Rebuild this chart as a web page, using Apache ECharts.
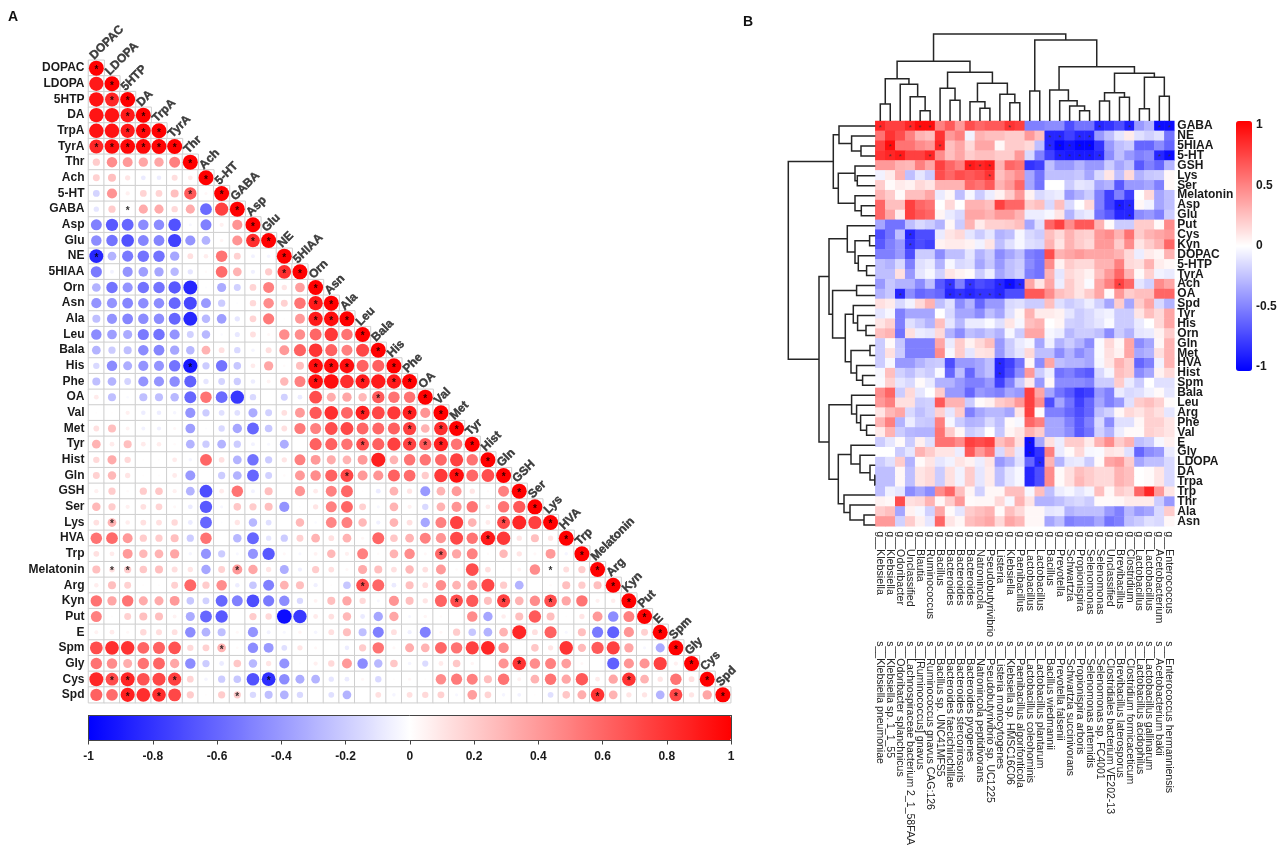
<!DOCTYPE html>
<html><head><meta charset="utf-8">
<script src="https://cdn.jsdelivr.net/npm/echarts@6/dist/echarts.min.js"></script>
<style>html,body{margin:0;padding:0;background:#fff}#c{width:1282px;height:848px}</style>
</head><body><div id="c"></div>
<script>
const metabolites = ['DOPAC','LDOPA','5HTP','DA','TrpA','TyrA','Thr','Ach','5-HT','GABA','Asp','Glu','NE','5HIAA','Orn','Asn','Ala','Leu','Bala','His','Phe','OA','Val','Met','Tyr','Hist','Gln','GSH','Ser','Lys','HVA','Trp','Melatonin','Arg','Kyn','Put','E','Spm','Gly','Cys','Spd'];
const corrRows = [
[],
[.9],
[.93,.85],
[.92,.93,.9],
[.93,.93,.9,.97],
[.85,.95,.97,.97,.98],
[.2,.45,.4,.35,.35,.5],
[.18,.25,.1,-.08,-.07,.13,.08],
[-.17,.42,.06,.17,.17,.25,.65,.03],
[-.1,.2,.02,.33,.33,.15,.33,-.58,.75],
[-.5,-.65,-.6,-.45,-.45,-.68,-.03,-.5,.06,.42],
[-.45,-.55,-.68,-.48,-.48,-.75,-.42,-.3,.04,.42,.82],
[-.85,-.3,-.52,-.55,-.55,-.35,.12,.07,.55,.18,-.05,-.04],
[-.52,-.05,-.42,-.38,-.35,-.28,-.1,.02,.58,.3,-.06,.2,.82],
[-.3,-.55,-.42,-.55,-.55,-.65,-.85,-.01,-.33,-.18,.17,.5,.1,.38],
[-.42,-.42,-.48,-.45,-.45,-.6,-.72,-.4,-.2,-.01,.15,.45,.18,.55,.9],
[-.25,-.42,-.48,-.45,-.45,-.6,-.85,-.28,-.38,-.1,.17,.52,.01,.4,.9,.95],
[-.45,-.38,-.33,-.52,-.55,-.42,-.18,-.28,-.02,-.09,.12,.03,.45,.45,.6,.78,.55],
[-.3,-.2,-.25,-.45,-.48,-.35,-.28,.3,.12,-.15,-.04,.13,.4,.62,.8,.62,.5,.72],
[-.15,-.45,-.32,-.42,-.42,-.55,-.9,-.2,-.55,-.22,.08,.35,.02,.25,.95,.95,.95,.62,.62],
[-.25,-.3,-.17,-.42,-.42,-.45,-.62,-.1,-.17,-.2,-.07,.05,.28,.5,.95,.95,.82,.9,.9,.9],
[.08,-.25,-.02,-.25,-.25,-.28,-.6,.55,-.58,-.78,-.15,0,-.18,-.08,.7,.32,.35,.28,.65,.55,.55],
[.01,.01,.06,-.07,-.07,-.04,-.42,-.2,-.12,-.12,-.33,-.18,.12,.4,.65,.82,.6,.88,.72,.78,.88,.42],
[.12,.25,.05,-.05,-.06,.03,-.38,-.01,-.15,-.35,-.6,-.22,.12,.52,.5,.7,.72,.6,.6,.62,.75,.3,.82],
[.3,.08,.25,.08,.07,.02,-.3,-.2,-.3,-.2,-.05,-.03,-.32,0,.62,.62,.55,.7,.62,.75,.75,.65,.88,.55],
[.15,.33,.15,.01,.01,.08,-.04,.6,.12,-.3,-.55,-.2,.1,.5,.4,.33,.3,.4,.88,.3,.55,.55,.6,.75,.55],
[.18,.28,.1,.01,.01,.08,-.4,0,-.2,-.3,-.6,-.18,.02,.4,.45,.62,.72,.4,.42,.62,.58,.2,.78,.95,.6,.7],
[.06,.2,.02,.2,.22,.06,-.3,-.7,.08,.55,-.05,.25,0,.42,.08,.5,.6,.01,-.08,.3,.1,-.4,.3,.4,.1,.02,.5],
[.28,.2,.06,.12,.17,.03,-.08,-.65,-.03,.22,.2,.25,-.42,-.01,.1,.5,.6,.18,-.03,.3,.06,-.15,.3,.42,.55,.08,.55,.65],
[.12,.3,.07,.12,.12,.15,-.08,-.6,-.01,.1,-.28,-.12,0,.28,-.02,.48,.5,.28,-.06,.3,.12,-.35,.5,.75,.3,.08,.72,.85,.75],
[.55,.58,.4,.2,.2,.25,-.2,.55,0,-.28,-.6,-.1,-.2,.18,.3,.12,.3,.03,.6,.22,.3,.5,.42,.72,.55,.9,.78,.1,.25,.1],
[.12,.08,.4,.28,.3,.35,-.04,-.42,-.2,-.03,-.42,-.65,.03,-.03,.05,.28,.06,.5,.02,.3,.45,.03,.6,.35,.5,.02,.28,.1,.03,.4,-.04],
[.25,.12,.2,.22,.25,.13,.1,-.35,.18,.4,.35,.1,-.32,-.06,.2,.12,.03,.33,.25,.12,.28,.12,.4,.02,.7,.12,.01,.05,.45,.01,.13,.2],
[.07,.25,.18,.01,.01,.18,.6,.2,.45,-.07,-.22,-.5,.3,.25,-.06,.01,-.22,.7,.6,-.08,.25,.12,.45,.3,.4,.72,.2,-.3,0,.02,.25,.2,.25],
[.55,.35,.55,.33,.33,.4,-.22,-.18,-.6,-.5,-.7,-.52,-.45,-.15,.05,.25,.35,.15,-.03,.42,.25,.1,.62,.7,.65,.25,.75,.3,.45,.7,.35,.55,.06,.07],
[.5,.01,.18,.25,.25,.05,-.33,-.6,-.65,0,.2,.15,-.95,-.78,.08,.12,.28,-.08,-.35,.35,-.03,.04,.02,0,.45,-.35,.07,.25,.65,.25,.01,.1,.4,-.45,.5],
[.05,.08,.03,.15,.13,.12,-.45,-.3,-.25,.03,-.42,-.05,-.03,.04,-.04,.12,.25,-.25,-.5,.12,-.06,-.5,.03,.2,-.22,-.3,.3,.85,.12,.62,-.03,.25,-.52,-.62,.42,.18],
[.7,.82,.8,.6,.62,.68,.15,.18,.3,.02,-.45,-.4,-.12,.1,.03,0,-.07,.2,.55,.03,.32,.3,.6,.55,.75,.85,.45,0,.22,.1,.8,.27,.65,.75,.35,-.03,-.33],
[.55,.45,.32,.55,.6,.35,-.45,-.2,-.08,.22,-.28,.1,-.42,-.01,.06,.15,.4,-.45,-.28,.22,-.04,-.14,.08,.22,.04,0,.42,.8,.45,.5,.38,.03,0,-.62,.42,.42,.75,.06],
[.85,.7,.85,.68,.72,.75,.17,-.04,-.2,-.22,-.68,-.82,-.45,-.32,-.3,-.1,-.08,.03,-.15,.01,.03,.01,.45,.52,.5,.25,.55,.05,.3,.55,.35,.65,.08,.35,.8,.3,.1,.55,.12],
[.62,.58,.88,.82,.82,.72,.2,.01,.2,.2,-.15,-.25,-.3,-.15,0,-.12,-.3,0,.12,-.04,.12,.15,.18,-.03,.38,.17,-.04,-.05,.01,-.12,.22,.32,.8,.3,.1,.1,-.3,.72,.1,.35]
];
const corrStars = [[2,1],[3,2],[4,2],[4,3],[5,0],[5,1],[5,2],[5,3],[5,4],[8,6],[9,2],[11,10],[12,0],[13,12],[15,14],[16,14],[16,15],[19,6],[19,14],[19,15],[19,16],[20,14],[20,17],[20,19],[21,18],[22,17],[22,20],[23,20],[23,22],[24,17],[24,20],[24,21],[24,22],[26,16],[26,23],[29,1],[29,26],[30,25],[31,22],[32,1],[32,2],[32,9],[32,29],[33,17],[34,23],[34,26],[34,29],[37,8],[38,27],[39,1],[39,2],[39,5],[39,11],[39,34],[40,2],[40,4],[40,9],[40,32],[40,37]];
const corrTicks = [-1,-.8,-.6,-.4,-.2,0,.2,.4,.6,.8,1];

const heatRowNames = ['GABA','NE','5HIAA','5-HT','GSH','Lys','Ser','Melatonin','Asp','Glu','Put','Cys','Kyn','DOPAC','5-HTP','TyrA','Ach','OA','Spd','Tyr','His','Orn','Gln','Met','HVA','Hist','Spm','Bala','Leu','Arg','Phe','Val','E','Gly','LDOPA','DA','Trpa','Trp','Thr','Ala','Asn'];
const genusNames = ['g__Klebsiella','g__Klebsiella','g__Odoribacter','g__Unclassified','g__Blautia','g__Ruminococcus','g__Bacillus','g__Bacteroides','g__Bacteroides','g__Bacteroides','g__Natronincola','g__Pseudobutyrivibrio','g__Listeria','g__Klebsiella','g__Paenibacillus','g__Lactobacillus','g__Lactobacillus','g__Bacillus','g__Prevotella','g__Schwartzia','g__Propionispira','g__Selenomonas','g__Selenomonas','g__Unclassified','g__Brevibacillus','g__Clostridium','g__Lactobacillus','g__Lactobacillus','g__Acetobacterium','g__Enterococcus'];
const speciesNames = ['s__Klebsiella pneumoniae','s__Klebsiella sp. 1_1_55','s__Odoribacter splanchnicus','s__Lachnospiraceae bacterium 2_1_58FAA','s__[Ruminococcus] gnavus','s__Ruminococcus gnavus CAG:126','s__Bacillus sp. UNC41MFS5','s__Bacteroides faecichinchillae','s__Bacteroides stercorirosoris','s__Bacteroides pyogenes','s__Natronincola peptidivorans','s__Pseudobutyrivibrio sp. UC1225','s__Listeria monocytogenes','s__Klebsiella sp. HMSC16C06','s__Paenibacillus algorifonticola','s__Lactobacillus coleohominis','s__Lactobacillus plantarum','s__Bacillus wiedmannii','s__Prevotella falsenii','s__Schwartzia succinivorans','s__Propionispira arboris','s__Selenomonas artemidis','s__Selenomonas sp. FC4001','s__Clostridiales bacterium VE202-13','s__Brevibacillus laterosporus','s__Clostridium formicaceticum','s__Lactobacillus acidophilus','s__Lactobacillus gallinarum','s__Acetobacterium bakii','s__Enterococcus hermanniensis'];
const heatRows = [
[.85,.75,.75,.85,.95,.95,.5,.65,.4,.7,.6,.65,.65,.8,.75,-.5,-.5,-.45,-.45,-.7,-.55,-.55,-.85,-.8,-.7,-.88,-.4,-.3,-.95,-.95],
[.55,.8,.7,.5,.3,.25,.8,.4,.5,-.05,.3,.25,.25,.2,.2,.4,.25,-.85,-.85,-.75,-.85,-.85,-.4,-.25,-.1,.08,-.12,-.18,-.12,-.55],
[.75,.95,.55,.55,.45,.4,.85,.25,.35,.15,.35,.35,.03,.2,.2,.15,-.25,-.85,-.98,-.92,-.98,-.98,-.8,-.4,-.25,-.2,-.6,-.6,-.45,-.6],
[.8,.85,.9,.75,.75,.85,.45,.25,.35,.2,.25,.25,.2,.2,.4,-.15,-.5,-.75,-.88,-.9,-.9,-.9,-.85,-.45,-.25,-.4,-.5,-.45,-.85,-.95],
[.4,.4,.3,.28,.5,.35,.75,.6,.5,.9,.85,.9,.3,.6,.55,-.8,-.75,-.25,-.4,-.4,-.3,-.4,-.4,-.2,-.35,-.25,-.65,-.5,-.6,-.3],
[-.05,.08,.3,-.25,-.1,-.2,.7,.6,.7,.65,.7,.8,.25,.35,.45,-.35,-.55,-.25,-.25,-.25,-.22,-.35,-.15,.1,-.25,.15,-.3,-.22,-.2,.03],
[.2,.02,.08,.05,.15,.1,.3,.3,.3,.6,.55,.65,.3,.4,.6,-.35,-.55,0,0,-.2,-.1,-.12,-.35,-.3,-.65,-.4,-.4,-.35,-.5,.03],
[.3,.2,.02,.25,.25,.35,-.08,.03,-.25,-.03,-.2,-.07,.05,.2,.4,.05,-.15,-.1,-.07,-.4,-.3,-.2,-.5,-.75,-.5,-.75,0,.15,-.35,-.25],
[.6,.25,.25,.75,.6,.55,0,.15,0,.3,.3,.25,.75,.6,.6,.2,.25,-.15,.25,-.15,0,.15,-.5,-.75,-.9,-.85,.03,-.05,-.35,-.25],
[.6,.35,.07,.75,.65,.6,.04,-.08,-.15,.35,.35,.3,.4,.4,.3,-.07,-.07,-.03,.1,-.3,-.12,-.08,-.55,-.65,-.85,-.85,-.45,-.4,-.5,-.2],
[-.35,-.55,-.55,-.25,-.15,-.2,-.3,.03,-.2,.3,.08,.18,.18,.2,.25,-.35,-.12,.6,.75,.45,.65,.65,.3,.02,-.2,-.2,.2,.2,.02,.45],
[-.7,-.55,-.25,-.85,-.7,-.7,-.08,.1,.15,-.1,-.2,-.1,-.3,-.25,-.03,-.15,-.2,.25,.15,.3,.2,.18,.4,.45,.3,.55,.2,.3,.35,.4],
[-.65,-.5,-.4,-.8,-.7,-.75,.05,.08,.08,.05,-.05,.1,-.25,-.12,-.03,-.12,-.15,.3,.1,.3,.2,.15,.4,.4,.2,.45,.1,.2,.3,.6],
[-.5,-.5,-.4,-.7,-.2,-.2,-.45,-.25,-.25,-.1,-.3,-.2,-.45,-.35,-.25,-.5,-.55,.7,.3,.35,.4,.35,.35,.35,.3,.15,-.07,.08,.04,.3],
[-.25,-.3,-.15,-.5,-.12,-.08,-.3,-.03,-.15,-.12,-.35,-.22,-.4,-.25,-.2,-.45,-.55,.45,.05,.2,.15,.15,.3,.3,.5,.15,.12,.3,.07,.03],
[-.25,-.25,.12,-.4,-.1,-.03,-.18,.1,.05,.02,-.2,-.07,-.35,-.25,-.18,-.5,-.55,.3,-.1,.15,.1,.05,.25,.4,.6,.3,.02,.18,-.05,-.08],
[-.4,-.22,-.3,-.3,-.45,-.25,-.65,-.8,-.5,-.8,-.7,-.75,-.85,-.95,-.85,.35,.1,.35,-.07,.2,.1,-.02,.35,.5,.75,.6,-.1,-.18,.45,.35],
[-.3,-.22,-.85,-.45,-.6,-.55,-.6,-.85,-.8,-.85,-.8,-.8,-.85,-.7,-.7,.65,.65,.45,.25,.2,.1,.2,.35,.02,.4,.2,.25,.25,.6,.6],
[.12,.08,-.15,-.05,.15,.3,-.25,-.12,-.45,-.3,-.6,-.4,-.4,-.15,-.12,-.2,-.2,.25,-.12,-.2,-.15,-.07,-.18,-.35,.2,-.35,.2,.35,-.15,-.3],
[-.1,-.03,-.5,-.35,-.35,-.35,0,-.15,-.35,-.35,-.45,-.25,-.35,-.12,.03,.3,.08,.08,.05,-.1,-.2,-.15,-.08,-.05,-.2,-.2,.1,.25,.15,.35],
[.1,.18,-.5,-.12,-.2,-.3,.25,-.1,-.28,-.08,-.08,-.02,-.12,.1,-.03,.25,.3,0,.04,-.18,-.2,-.15,-.1,-.02,-.2,-.2,-.08,0,.15,.35],
[.25,.3,-.55,.12,-.07,-.1,.15,-.3,-.45,-.25,-.3,-.22,-.3,-.03,-.2,.35,.35,-.03,-.07,-.28,-.2,-.2,-.25,-.45,-.2,-.3,-.1,-.08,.05,.2],
[-.2,.02,-.22,-.5,-.5,-.5,.35,-.08,.2,.05,.15,.25,-.4,-.2,-.08,-.03,-.35,-.06,-.3,-.2,-.3,-.45,-.02,.15,.03,.35,-.45,-.35,.03,.3],
[-.2,.12,-.2,-.5,-.5,-.5,.45,-.03,.2,-.1,.1,.12,-.4,-.2,-.1,.15,-.25,-.25,-.45,-.3,-.45,-.35,-.02,.12,.05,.35,-.35,-.3,.12,.3],
[-.2,-.03,-.4,-.4,-.3,-.22,-.2,-.7,-.4,-.4,-.35,-.25,-.85,-.75,-.55,.03,-.45,.35,-.25,-.3,-.3,-.35,-.03,.1,.3,.2,-.6,-.5,-.05,.3],
[-.03,.25,-.18,-.25,-.15,-.2,-.02,-.6,-.25,-.6,-.35,-.25,-.85,-.7,-.45,.4,-.2,-.07,-.55,-.5,-.6,-.65,-.15,-.04,.25,.2,-.45,-.35,.05,.15],
[-.02,.18,-.1,-.15,.02,-.08,-.3,-.3,-.4,-.5,-.5,-.4,-.75,-.5,-.2,.08,-.4,.03,-.45,-.45,-.45,-.5,-.2,-.2,.2,-.08,-.2,0,-.12,-.12],
[.45,.6,-.2,.15,-.1,0,.2,-.4,-.4,-.6,-.4,-.45,-.5,-.35,-.4,.75,.35,-.35,-.55,-.65,-.8,-.75,-.4,-.5,-.08,-.15,-.12,-.05,.02,-.1],
[.4,.5,.12,.12,-.2,-.18,.65,.3,.3,-.2,.02,.06,.2,.25,.4,.75,.45,-.7,-.35,-.55,-.75,-.6,-.35,-.5,-.4,-.12,.2,.25,.18,.02],
[.1,.28,.35,-.15,-.25,-.18,.18,-.1,.2,-.5,-.35,-.28,-.28,-.35,.1,.75,.02,-.5,-.5,-.6,-.7,-.6,-.25,-.18,.03,.15,.1,.18,.12,-.1],
[.3,.5,-.3,-.07,-.2,-.22,.5,-.03,-.2,-.3,-.28,-.15,-.25,.02,-.03,.6,.5,-.35,-.35,-.5,-.65,-.5,-.15,-.45,-.12,-.12,.03,.18,.18,.1],
[.08,.3,-.2,-.28,-.3,-.3,.55,.2,.03,-.2,-.15,0,-.22,.04,.1,.3,.2,-.35,-.35,-.45,-.65,-.55,-.18,-.3,-.07,.02,.02,.18,.15,.1],
[-.2,-.1,.02,-.2,.06,-.12,.55,.55,.45,.75,.7,.75,.25,.35,.12,-.95,-.35,.12,-.07,.2,.2,.08,.3,.45,.2,.3,-.25,-.2,-.03,.06],
[0,0,-.2,-.1,.3,.2,.1,.1,-.07,.65,.4,.55,-.15,.2,-.1,-.95,-.8,.5,-.08,.02,.15,-.03,-.02,.1,.08,-.12,-.6,-.45,-.4,-.08],
[-.2,-.12,.2,-.3,.02,.1,-.1,-.05,.1,.05,-.07,.1,-.4,-.3,-.12,-.6,-.85,.3,-.3,-.1,-.08,-.2,.02,.35,.4,.2,-.35,-.25,-.25,-.15],
[-.25,-.25,.03,-.25,.1,.15,-.2,.12,-.05,.2,-.1,.08,-.25,-.1,-.03,-.85,-.7,.45,.02,.12,.25,.2,.15,.15,.3,.25,0,.02,.1,-.15],
[-.25,-.25,.03,-.25,.1,.15,-.2,.12,-.05,.2,-.1,.08,-.25,-.1,-.03,-.85,-.7,.45,.02,.12,.28,.2,.15,.15,.3,.25,0,.02,.1,-.15],
[-.25,-.06,-.1,-.45,-.35,-.45,.45,.6,.25,.04,-.18,.03,.03,.25,.25,-.03,.25,-.25,-.07,-.03,-.1,-.04,.25,.03,.2,.15,.6,.85,.4,.1],
[.05,.03,.7,.12,.15,.3,.03,.2,.4,.02,.03,.03,.15,-.03,.3,.1,-.3,-.3,-.25,-.18,-.15,-.2,.02,.02,.03,.08,.08,.08,-.2,-.4],
[.2,.25,-.35,.05,-.03,-.18,.35,.02,-.1,.2,.25,.3,.02,.25,.15,.03,.03,-.1,-.08,-.3,-.25,-.25,-.25,-.4,-.5,-.28,-.4,-.35,-.15,.2],
[.4,.4,-.18,.2,.06,-.1,.6,.1,.03,.25,.3,.35,.15,.35,.28,.03,.03,-.35,-.25,-.5,-.45,-.45,-.35,-.55,-.5,-.25,-.2,-.12,-.15,.03]
];
const heatStars = [[0,0],[0,3],[0,4],[0,5],[0,13],[0,22],[0,25],[0,28],[0,29],[1,17],[1,18],[1,20],[1,21],[2,1],[2,6],[2,17],[2,18],[2,19],[2,20],[2,21],[3,1],[3,2],[3,5],[3,18],[3,19],[3,20],[3,21],[3,22],[3,28],[3,29],[4,9],[4,10],[4,11],[5,11],[8,24],[8,25],[9,25],[11,3],[12,3],[16,7],[16,9],[16,12],[16,13],[16,14],[16,24],[17,2],[17,7],[17,8],[17,9],[17,10],[17,11],[17,12],[24,12],[25,12],[32,15],[33,15],[34,16]];
const heatTicks = [-1,-.5,0,.5,1];

// dendrograms: [merge height, left child, right child]; a bare number is a leaf index
const columnTree = [87,
  [59.7,
    [42.3,[17,0,1],[36.7,2,[24.3,3,[10.3,4,5]]]],
    [48.7,[32.7,6,[20.7,7,8]],[37.7,[19.3,9,[12.7,10,11]],[26.7,12,[18.3,13,14]]]]],
  [81,[30,15,16],
    [54.3,[31,17,[20.3,18,[15,19,[10.3,20,21]]]],
      [47.7,[28.3,[20,22,23],[23.7,24,25]],[43.7,[12.3,26,27],[24.7,28,29]]]]]];
const rowTree = [87,
  [42,[36.3,0,[23.7,1,[14.3,2,3]]],[37,[20.3,4,[18,5,6]],[20.3,7,[14,8,9]]]],
  [56.3,
    [46.3,
      [28,10,[20.3,[5.7,11,12],[17,13,[8.7,14,15]]]],
      [42.7,[18.7,16,17],[30,[22,18,[17.7,19,[9.3,20,21]]],[24.3,[5.3,22,23],[18.7,24,[12.7,25,26]]]]]],
    [46.3,
      [23.7,27,[18.7,28,[14.7,29,[8.7,30,31]]]],
      [37,[24.3,32,[15.3,33,[5.3,34,[.5,35,36]]]],[31.3,37,[25.3,38,[11.3,39,40]]]]]]];

const FONT = 'Liberation Sans';
const colours = ['#0000ff','#ffffff','#ff0000'];
function flatten(tree){
  const out = [];
  (function walk(n){
    if (typeof n === 'number') return {pos:n+.5,h:0};
    const a = walk(n[1]), b = walk(n[2]);
    out.push([a.pos,a.h,b.pos,b.h,n[0]]);
    return {pos:(a.pos+b.pos)/2,h:n[0]};
  })(tree);
  return out;
}
function dendroItem(horizontalLeaves){
  return function(params, api){
    const p = (pos,h)=> horizontalLeaves ? api.coord([pos,h]) : api.coord([h,pos]);
    const a=api.value(0), ah=api.value(1), b=api.value(2), bh=api.value(3), h=api.value(4);
    return {type:'polyline',shape:{points:[p(a,ah),p(a,h),p(b,h),p(b,bh)]},
      style:{fill:null,stroke:'#262626',lineWidth:1.5}};
  };
}
const cellData=[], circleData=[], diagData=[];
metabolites.forEach((m,j)=>{
  for(let i=0;i<=j;i++){
    cellData.push([i,j,1]);
    circleData.push([i,j,i===j?1:corrRows[j][i]]);
  }
  diagData.push([j,j]);
});
const allStars = corrStars.concat(metabolites.map((m,j)=>[j,j])).map(s=>[s[1],s[0]]);
const heatData=[];
heatRows.forEach((r,j)=>r.forEach((v,i)=>heatData.push([i,j,v])));
const heatStarData = heatStars.map(s=>[s[1],s[0]]);
const clear = 'rgba(0,0,0,0)';
const noBorder = {textBorderWidth:0,textBorderColor:'transparent',textShadowBlur:0};

const boldLabel = {fontFamily:FONT,fontWeight:'bold',fontSize:12,color:'#1a1a1a'};
const none = {show:false};
const option = {
  animation:false,
  backgroundColor:'#fff',
  title:[
    {text:'A',left:8,top:10,padding:0,textStyle:{fontFamily:FONT,fontWeight:'bold',fontSize:14,color:'#111'}},
    {text:'B',left:743,top:15,padding:0,textStyle:{fontFamily:FONT,fontWeight:'bold',fontSize:14,color:'#111'}}
  ],
  grid:[
    {left:88.5,top:60.3,width:642.2,height:642.4},
    {left:88.5,top:715.5,width:642.5,height:25},
    {left:875.3,top:121,width:299,height:409},
    {left:875.3,top:31,width:299,height:90},
    {left:784.3,top:121,width:91,height:409},
    {left:1236,top:124.7,width:16,height:242}
  ],
  xAxis:[
    {gridIndex:0,type:'category',data:metabolites,show:false},
    {gridIndex:1,type:'value',min:-1,max:1,interval:.2,position:'bottom',z:10,splitLine:none,
      axisLine:{onZero:false,lineStyle:{color:'#444',width:1}},axisTick:{length:4,lineStyle:{color:'#444'}},
      axisLabel:Object.assign({margin:10,customValues:corrTicks,formatter:v=>String(+(+v).toFixed(1))},boldLabel)},
    {gridIndex:1,type:'value',min:-1,max:1,position:'top',z:10,splitLine:none,
      axisLine:{onZero:false,lineStyle:{color:'#444',width:1}},axisTick:none,axisLabel:none},
    {gridIndex:2,type:'category',data:genusNames,position:'bottom',axisLine:none,axisTick:none,splitLine:none,
      axisLabel:{interval:0,rotate:-90,margin:5,fontFamily:FONT,fontSize:10.7,color:'#222'}},
    {gridIndex:2,type:'category',data:speciesNames,position:'bottom',offset:110,axisLine:none,axisTick:none,splitLine:none,
      axisLabel:{interval:0,rotate:-90,margin:5,fontFamily:FONT,fontSize:10.5,color:'#222'}},
    {gridIndex:3,type:'value',min:0,max:30,show:false},
    {gridIndex:4,type:'value',min:0,max:91,inverse:true,show:false},
    {gridIndex:5,type:'value',min:0,max:1,show:false}
  ],
  yAxis:[
    {gridIndex:0,type:'category',data:metabolites,inverse:true,axisLine:none,axisTick:none,splitLine:none,
      axisLabel:Object.assign({interval:0,margin:4},boldLabel)},
    {gridIndex:1,type:'value',min:0,max:1,position:'left',z:10,splitLine:none,axisTick:none,axisLabel:none,
      axisLine:{show:true,onZero:false,lineStyle:{color:'#444',width:1}}},
    {gridIndex:1,type:'value',min:0,max:1,position:'right',z:10,splitLine:none,axisTick:none,axisLabel:none,
      axisLine:{show:true,onZero:false,lineStyle:{color:'#444',width:1}}},
    {gridIndex:2,type:'category',data:heatRowNames,inverse:true,position:'right',axisLine:none,axisTick:none,splitLine:none,
      axisLabel:Object.assign({interval:0,margin:3},boldLabel)},
    {gridIndex:3,type:'value',min:0,max:90,show:false},
    {gridIndex:4,type:'value',min:0,max:41,inverse:true,show:false},
    {gridIndex:5,type:'value',min:-1,max:1,position:'right',axisLine:none,axisTick:none,splitLine:none,
      axisLabel:Object.assign({margin:4,customValues:heatTicks},boldLabel)}
  ],
  visualMap:[
    {type:'continuous',min:-1,max:1,seriesIndex:[1],dimension:2,orient:'horizontal',left:88.5,top:715.5,itemWidth:25,itemHeight:642.5,
      padding:0,calculable:false,hoverLink:false,inRange:{color:colours},textStyle:{fontSize:0}},
    {type:'continuous',min:-1,max:1,seriesIndex:[4],dimension:2,orient:'vertical',left:1236,top:121,itemWidth:16,itemHeight:250,
      padding:0,calculable:false,hoverLink:false,inRange:{color:colours},textStyle:{fontSize:0}}
  ],
  series:[
    {type:'heatmap',xAxisIndex:0,yAxisIndex:0,data:cellData,silent:true,
      itemStyle:{color:'#fff',borderColor:'#cfcfcf',borderWidth:1}},
    {type:'scatter',xAxisIndex:0,yAxisIndex:0,data:circleData,silent:true,symbol:'circle',itemStyle:{opacity:1},
      symbolSize:v=>15*Math.pow(Math.abs(v[2]),.45),z:3},
    {type:'scatter',xAxisIndex:0,yAxisIndex:0,data:allStars,silent:true,symbolSize:1,itemStyle:{color:clear},z:4,
      label:Object.assign({show:true,formatter:'*',position:'inside',offset:[0,2],fontFamily:FONT,fontWeight:'bold',fontSize:10,color:'#000'},noBorder)},
    {type:'scatter',xAxisIndex:0,yAxisIndex:0,data:diagData,silent:true,symbolSize:1,itemStyle:{color:clear},z:5,
      label:{show:true,formatter:p=>metabolites[p.data[0]],rotate:45,position:[-4,-10],align:'left',verticalAlign:'middle',
        fontFamily:FONT,fontWeight:'bold',fontSize:12,color:'#111',textBorderColor:'#111',textBorderWidth:.4}},
    {type:'heatmap',xAxisIndex:3,yAxisIndex:3,data:heatData,silent:true},
    {type:'scatter',xAxisIndex:3,yAxisIndex:3,data:heatStarData,silent:true,symbolSize:1,itemStyle:{color:clear},z:4,
      label:Object.assign({show:true,formatter:'*',position:'inside',offset:[0,1.5],fontFamily:FONT,fontSize:8,color:'#333'},noBorder)},
    {type:'custom',xAxisIndex:5,yAxisIndex:4,data:flatten(columnTree),silent:true,renderItem:dendroItem(true),clip:false},
    {type:'custom',xAxisIndex:6,yAxisIndex:5,data:flatten(rowTree),silent:true,renderItem:dendroItem(false),clip:false}
  ]
};
const chart = echarts.init(document.getElementById('c'),null,{renderer:'canvas'});
chart.setOption(option);
</script></body></html>
